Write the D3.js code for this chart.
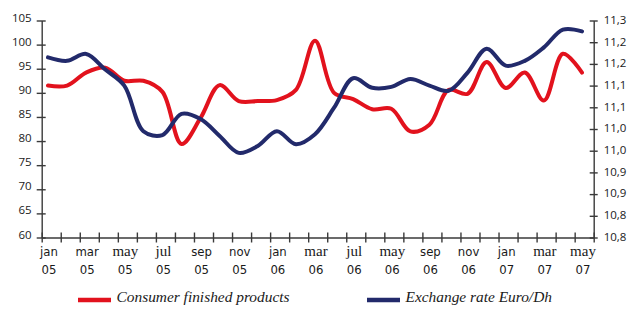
<!DOCTYPE html>
<html>
<head>
<meta charset="utf-8">
<script src="https://cdn.jsdelivr.net/npm/d3@7"></script>
<style>
  body { margin: 0; background: #fff; }
  svg { display: block; }
  .axis path, .axis line { stroke: #3a3a3a; stroke-width: 1.4; }
  .axis text { fill: #1a1a1a; font-family: "Open Sans", "DejaVu Sans", sans-serif; font-size: 11.5px; }
  .xlab { fill: #1a1a1a; font-family: "Liberation Sans Narrow", "DejaVu Sans Condensed", sans-serif; font-size: 13px; }
  .xlab.serif { font-family: "Liberation Serif", serif; font-size: 15px; }
  .legend text { font-family: "Liberation Serif", serif; font-style: italic; font-size: 15.4px; fill: #1a1a1a; }
</style>
</head>
<body>
<div class="chart"></div>
<script>
// monthly series, jan 2005 - may 2007
const months = [
  '2005-01','2005-02','2005-03','2005-04','2005-05','2005-06','2005-07','2005-08','2005-09','2005-10','2005-11','2005-12',
  '2006-01','2006-02','2006-03','2006-04','2006-05','2006-06','2006-07','2006-08','2006-09','2006-10','2006-11','2006-12',
  '2007-01','2007-02','2007-03','2007-04','2007-05'
];
const consumer = [
  91.5, 91.5, 94.2, 95.2, 92.5, 92.5, 90.2, 79.4, 84.8, 91.6, 88.3, 88.3,
  88.5, 90.6, 100.8, 90.0, 88.7, 86.6, 86.7, 82.0, 83.4, 90.6, 89.8, 96.4,
  91.0, 94.2, 88.4, 98.1, 94.2
];
const exchange = [
  11.215, 11.207, 11.223, 11.187, 11.150, 11.045, 11.036, 11.085, 11.073, 11.034, 10.995, 11.011,
  11.045, 11.015, 11.038, 11.099, 11.167, 11.145, 11.147, 11.165, 11.150, 11.138, 11.180, 11.235,
  11.196, 11.207, 11.238, 11.279, 11.275
];

// tick labels (every other month)
const monthLabels = ['jan','mar','may','jul','sep','nov','jan','mar','jul','may','sep','nov','jan','mar','may'];
const yearLabels  = ['05','05','05','05','05','05','06','06','06','06','06','06','07','07','07'];
const leftTicks = [60, 65, 70, 75, 80, 85, 90, 95, 100, 105];
const rightTicks = [10.8, 10.85, 10.9, 10.95, 11.0, 11.05, 11.1, 11.15, 11.2, 11.25, 11.3];
const rightTickLabels = ['10,8','10,8','10,9','10,9','11,0','11,0','11,1','11,1','11,2','11,2','11,3'];

const seriesNames = ['Consumer finished products', 'Exchange rate Euro/Dh'];
const colours = ['#e2121d', '#222a6b'];
const serifLabels = new Set([2, 3, 7, 8, 9, 13, 14]);

const width = 640, height = 311;
const plot = { left: 41.7, right: 593.7, top: 20.5, bottom: 237.5 };

const svg = d3.select('.chart').append('svg')
  .attr('width', width)
  .attr('height', height);

const xEdge = d3.scaleLinear().domain([0, months.length]).range([plot.left, plot.right]);
const xLine = d3.scalePoint().domain(months).range([48, 582]);
const yLeft = d3.scaleLinear().domain([60, 105]).range([plot.bottom, plot.top]);
const yRight = d3.scaleLinear().domain([10.8, 11.3]).range([plot.bottom, plot.top]);

// x axis: ticks at month boundaries
const gx = svg.append('g')
  .attr('class', 'axis')
  .attr('transform', `translate(0,${plot.bottom})`)
  .call(d3.axisBottom(xEdge).tickValues(d3.range(months.length + 1)).tickSize(5).tickSizeOuter(0).tickFormat(''));
gx.selectAll('.tick line').attr('y1', -5);

// left axis
const gl = svg.append('g')
  .attr('class', 'axis')
  .attr('transform', `translate(${plot.left},0)`)
  .call(d3.axisLeft(yLeft).tickValues(leftTicks).tickSize(5).tickSizeOuter(0).tickPadding(5));
gl.selectAll('.tick line').attr('x1', 4);
gl.selectAll('.tick text').attr('dy', '0.05em');

// right axis
const gr = svg.append('g')
  .attr('class', 'axis')
  .attr('transform', `translate(${plot.right},0)`)
  .call(d3.axisRight(yRight).tickValues(rightTicks).tickSize(4).tickSizeOuter(0).tickPadding(6)
    .tickFormat((d, i) => rightTickLabels[i]));
gr.selectAll('.tick line').attr('x1', -4);
gr.selectAll('.tick text').attr('dy', '0.25em');

// month / year labels
const lab = svg.append('g').selectAll('g')
  .data(monthLabels)
  .enter().append('g')
  .attr('transform', (d, i) => `translate(${xLine(months[i * 2]) + 1},0)`);
lab.append('text')
  .attr('class', (d, i) => serifLabels.has(i) ? 'xlab serif' : 'xlab')
  .attr('text-anchor', 'middle')
  .attr('y', 256)
  .text(d => d);
lab.append('text')
  .attr('class', 'xlab')
  .attr('text-anchor', 'middle')
  .attr('y', 273.5)
  .text((d, i) => yearLabels[i]);

// lines
const lineL = d3.line()
  .x((d, i) => xLine(months[i]))
  .y(d => yLeft(d))
  .curve(d3.curveCatmullRom.alpha(0.5));
const lineR = d3.line()
  .x((d, i) => xLine(months[i]))
  .y(d => yRight(d))
  .curve(d3.curveCatmullRom.alpha(0.5));

svg.append('path')
  .datum(consumer)
  .attr('d', lineL)
  .attr('fill', 'none')
  .attr('stroke', colours[0])
  .attr('stroke-width', 4)
  .attr('stroke-linecap', 'round');

svg.append('path')
  .datum(exchange)
  .attr('d', lineR)
  .attr('fill', 'none')
  .attr('stroke', colours[1])
  .attr('stroke-width', 4)
  .attr('stroke-linecap', 'round');

// legend
const legendX = [78, 367];
const legend = svg.append('g').attr('class', 'legend')
  .selectAll('g')
  .data(seriesNames)
  .enter().append('g')
  .attr('transform', (d, i) => `translate(${legendX[i]},300)`);
legend.append('line')
  .attr('x1', 0).attr('x2', 33)
  .attr('stroke', (d, i) => colours[i])
  .attr('stroke-width', 4.5);
legend.append('text')
  .attr('x', 38.5)
  .attr('y', 2)
  .text(d => d);
</script>
</body>
</html>
